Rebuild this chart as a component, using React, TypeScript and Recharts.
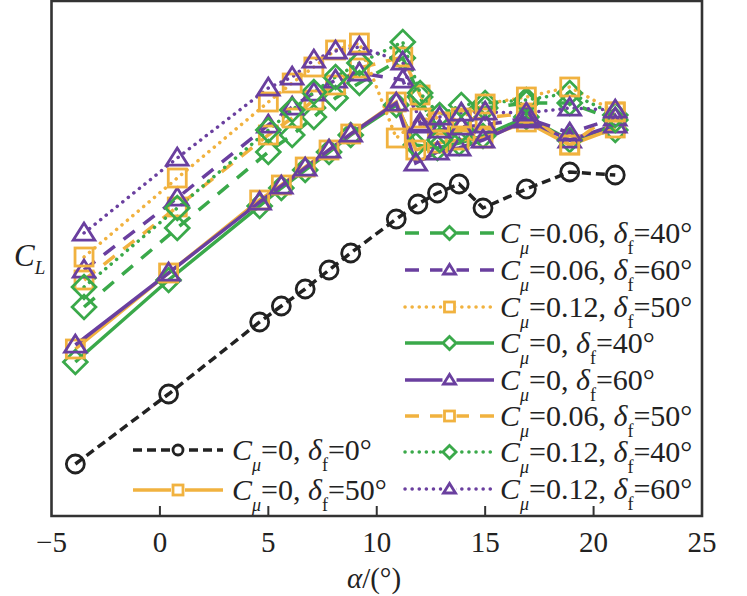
import { LineChart, Line, XAxis, YAxis, ReferenceArea } from "recharts";

// angle of attack, deg
const alphaBase = [-3.9, 0.4, 4.6, 5.6, 6.7, 7.8, 8.8, 10.9, 11.9, 12.8, 13.8, 14.9, 16.9, 18.9, 21.0];
const alphaFlap = [-3.9, 0.4, 4.6, 5.6, 6.7, 7.8, 8.8, 10.9, 11.8, 12.8, 13.8, 14.9, 16.9, 18.9, 21.0];
const alphaBlown = [-3.5, 0.8, 5.0, 6.1, 7.1, 8.1, 9.2, 11.2, 12.0, 12.9, 13.9, 15.0, 16.9, 18.9, 21.0];
const alphaBlown50 = [-3.5, 0.8, 5.0, 6.1, 7.1, 8.1, 9.2, 10.9, 12.0, 12.9, 13.9, 15.0, 16.9, 18.9, 21.0];

// lift coefficient (no scale printed on the original axis)
const clC0F0 = [0.52, 1.22, 1.94, 2.1, 2.27, 2.46, 2.63, 2.97, 3.12, 3.23, 3.32, 3.08, 3.27, 3.44, 3.41];
const clC0F40 = [1.54, 2.36, 3.1, 3.28, 3.46, 3.64, 3.81, 4.11, 3.71, 3.68, 3.73, 3.8, 3.99, 3.76, 3.86];
const clC0F50 = [1.67, 2.43, 3.16, 3.31, 3.49, 3.66, 3.82, 4.14, 3.66, 3.73, 3.76, 3.78, 3.94, 3.71, 3.88];
const clC0F60 = [1.71, 2.43, 3.14, 3.3, 3.48, 3.66, 3.82, 4.13, 3.53, 3.64, 3.68, 3.76, 3.96, 3.76, 3.91];
const clC06F40 = [2.09, 2.88, 3.64, 3.81, 3.99, 4.18, 4.33, 4.58, 4.19, 3.76, 3.86, 4.08, 4.13, 4.13, 3.96];
const clC06F50 = [2.36, 3.09, 3.81, 3.98, 4.16, 4.31, 4.48, 4.59, 4.21, 3.94, 3.96, 3.98, 4.03, 3.71, 4.04];
const clC06F60 = [2.46, 3.18, 3.91, 4.09, 4.23, 4.36, 4.43, 4.36, 3.93, 3.86, 3.89, 3.91, 3.98, 3.83, 3.98];
const clC12F40 = [2.29, 3.08, 3.86, 4.06, 4.24, 4.39, 4.53, 4.74, 4.23, 4.01, 4.11, 4.13, 4.16, 4.23, 4.01];
const clC12F50 = [2.59, 3.38, 4.14, 4.33, 4.49, 4.66, 4.73, 3.78, 3.98, 3.94, 3.98, 4.12, 4.19, 4.29, 4.04];
const clC12F60 = [2.83, 3.58, 4.28, 4.39, 4.56, 4.65, 4.69, 4.54, 3.91, 3.99, 4.03, 4.04, 4.03, 4.08, 4.06];

const xTicks = [-5, 0, 5, 10, 15, 20, 25];

const BLACK = "#222222";
const GREEN = "#3aa94a";
const PURPLE = "#6a3f9f";
const ORANGE = "#f1b23f";
const FONT = "Liberation Serif";

const DASH_SHORT = "9 5";
const DASH_LONG = "14 11";
const DOTTED = "0.1 7";

const rows = (a: number[], cl: number[]) => a.map((v, i) => ({ a: v, cl: cl[i] }));

type Shape = "circle" | "square" | "triangle" | "diamond";

interface Series {
    key: string;
    cmu: string;
    flap: string;
    data: { a: number; cl: number }[];
    color: string;
    dash?: string;
    shape: Shape;
}

const series: Series[] = [
    { key: "c0f0", cmu: "0", flap: "0", data: rows(alphaBase, clC0F0), color: BLACK, dash: DASH_SHORT, shape: "circle" },
    { key: "c0f40", cmu: "0", flap: "40", data: rows(alphaFlap, clC0F40), color: GREEN, shape: "diamond" },
    { key: "c0f50", cmu: "0", flap: "50", data: rows(alphaFlap, clC0F50), color: ORANGE, shape: "square" },
    { key: "c0f60", cmu: "0", flap: "60", data: rows(alphaFlap, clC0F60), color: PURPLE, shape: "triangle" },
    { key: "c06f40", cmu: "0.06", flap: "40", data: rows(alphaBlown, clC06F40), color: GREEN, dash: DASH_LONG, shape: "diamond" },
    { key: "c06f50", cmu: "0.06", flap: "50", data: rows(alphaBlown, clC06F50), color: ORANGE, dash: DASH_LONG, shape: "square" },
    { key: "c06f60", cmu: "0.06", flap: "60", data: rows(alphaBlown, clC06F60), color: PURPLE, dash: DASH_LONG, shape: "triangle" },
    { key: "c12f40", cmu: "0.12", flap: "40", data: rows(alphaBlown, clC12F40), color: GREEN, dash: DOTTED, shape: "diamond" },
    { key: "c12f50", cmu: "0.12", flap: "50", data: rows(alphaBlown50, clC12F50), color: ORANGE, dash: DOTTED, shape: "square" },
    { key: "c12f60", cmu: "0.12", flap: "60", data: rows(alphaBlown, clC12F60), color: PURPLE, dash: DOTTED, shape: "triangle" },
];

const leftLegend = ["c0f0", "c0f50"];
const rightLegend = ["c06f40", "c06f60", "c12f50", "c0f40", "c0f60", "c06f50", "c12f40", "c12f60"];

const Marker = ({ shape, cx, cy, s, color, sw }: { shape: Shape; cx: number; cy: number; s: number; color: string; sw: number }) => {
    const common = { fill: "none", stroke: color, strokeWidth: sw, strokeLinejoin: "miter" as const };
    if (shape === "circle") return <circle cx={cx} cy={cy} r={s / 2} {...common} />;
    if (shape === "square") return <rect x={cx - s / 2} y={cy - s / 2} width={s} height={s} {...common} />;
    if (shape === "triangle") {
        const h = s * 0.95;
        const pts = `${cx},${cy - h * 0.58} ${cx - s * 0.6},${cy + h * 0.42} ${cx + s * 0.6},${cy + h * 0.42}`;
        return <polygon points={pts} {...common} />;
    }
    const r = s * 0.66;
    return <polygon points={`${cx},${cy - r} ${cx + r},${cy} ${cx},${cy + r} ${cx - r},${cy}`} {...common} />;
};

const XTick = (props: any) => {
    const { x, y, payload } = props;
    const v = payload.value as number;
    const edge = v === -5 || v === 25;
    return (
        <g>
            {!edge && <line x1={x} x2={x} y1={y} y2={y - 10} stroke="#333" strokeWidth={2} />}
            <text x={x} y={y + 36} textAnchor="middle" style={{ fontFamily: FONT }} fontSize={29} fill="#222">
                {v < 0 ? `\u2212${Math.abs(v)}` : v}
            </text>
        </g>
    );
};

const LegendLabel = ({ x, y, s }: { x: number; y: number; s: Series }) => (
    <text x={x} y={y} style={{ fontFamily: FONT }} fontSize={30} fill="#222">
        <tspan fontStyle="italic">C</tspan>
        <tspan fontStyle="italic" fontSize={18} dy={11}>μ</tspan>
        <tspan dy={-11}>{`=${s.cmu}, `}</tspan>
        <tspan fontStyle="italic">δ</tspan>
        <tspan fontSize={18} dy={11}>f</tspan>
        <tspan dy={-11}>{`=${s.flap}°`}</tspan>
    </text>
);

const LegendRow = ({ s, x0, x1, y, tx }: { s: Series; x0: number; x1: number; y: number; tx: number }) => (
    <g>
        <line x1={x0} x2={x1} y1={y} y2={y} stroke={s.color} strokeWidth={3.5} strokeDasharray={s.dash} strokeLinecap={s.dash === DOTTED ? "round" : "butt"} />
        <rect x={(x0 + x1) / 2 - 7} y={y - 7} width={14} height={14} fill="#fff" />
        <Marker shape={s.shape} cx={(x0 + x1) / 2} cy={y} s={10} color={s.color} sw={2.8} />
        <LegendLabel x={tx} y={y + 10} s={s} />
    </g>
);

const byKey = (k: string) => series.find((s) => s.key === k)!;

export default function App() {
    const leftRows = [450, 490];
    const rightRows = [233, 270, 307, 343, 380, 416, 452, 489];
    return (
        <div style={{ position: "absolute", left: 0, top: 0, width: 747, height: 596, background: "#fff" }}>
            <LineChart width={747} height={596} margin={{ top: 1, right: 45, bottom: 0, left: 51.5 }}>
                <XAxis
                    dataKey="a"
                    type="number"
                    domain={[-5, 25]}
                    ticks={xTicks}
                    allowDataOverflow
                    height={80}
                    tickSize={0}
                    tickMargin={0}
                    tickLine={false}
                    axisLine={false}
                    tick={<XTick />}
                    interval={0}
                />
                <YAxis type="number" domain={[0, 5.15]} hide allowDataOverflow />
                <ReferenceArea x1={-5} x2={25} y1={0} y2={5.15} fill="none" stroke="#333" strokeWidth={2.6} fillOpacity={0} />
                {series.map((s) => (
                    <Line
                        key={s.key}
                        data={s.data}
                        dataKey="cl"
                        type="linear"
                        stroke={s.color}
                        strokeWidth={3.5}
                        strokeDasharray={s.dash}
                        strokeLinecap={s.dash === DOTTED ? "round" : "butt"}
                        isAnimationActive={false}
                        activeDot={false}
                        dot={(p: any) => (
                            <Marker key={`${s.key}-${p.index}`} shape={s.shape} cx={p.cx} cy={p.cy} s={18} color={s.color} sw={2.8} />
                        )}
                    />
                ))}
            </LineChart>
            <svg width={747} height={596} style={{ position: "absolute", left: 0, top: 0, pointerEvents: "none" }}>
                <text x={14} y={266} style={{ fontFamily: FONT }} fontSize={31} fill="#222">
                    <tspan fontStyle="italic">C</tspan>
                    <tspan fontStyle="italic" fontSize={19} dy={8}>L</tspan>
                </text>
                <text x={374} y={588} textAnchor="middle" style={{ fontFamily: FONT }} fontSize={29} fill="#222">
                    <tspan fontStyle="italic">α</tspan>/(°)
                </text>
                {leftLegend.map((k, i) => (
                    <LegendRow key={k} s={byKey(k)} x0={133} x1={223} y={leftRows[i]} tx={232} />
                ))}
                {rightLegend.map((k, i) => (
                    <LegendRow key={k} s={byKey(k)} x0={405} x1={494} y={rightRows[i]} tx={500} />
                ))}
            </svg>
        </div>
    );
}
